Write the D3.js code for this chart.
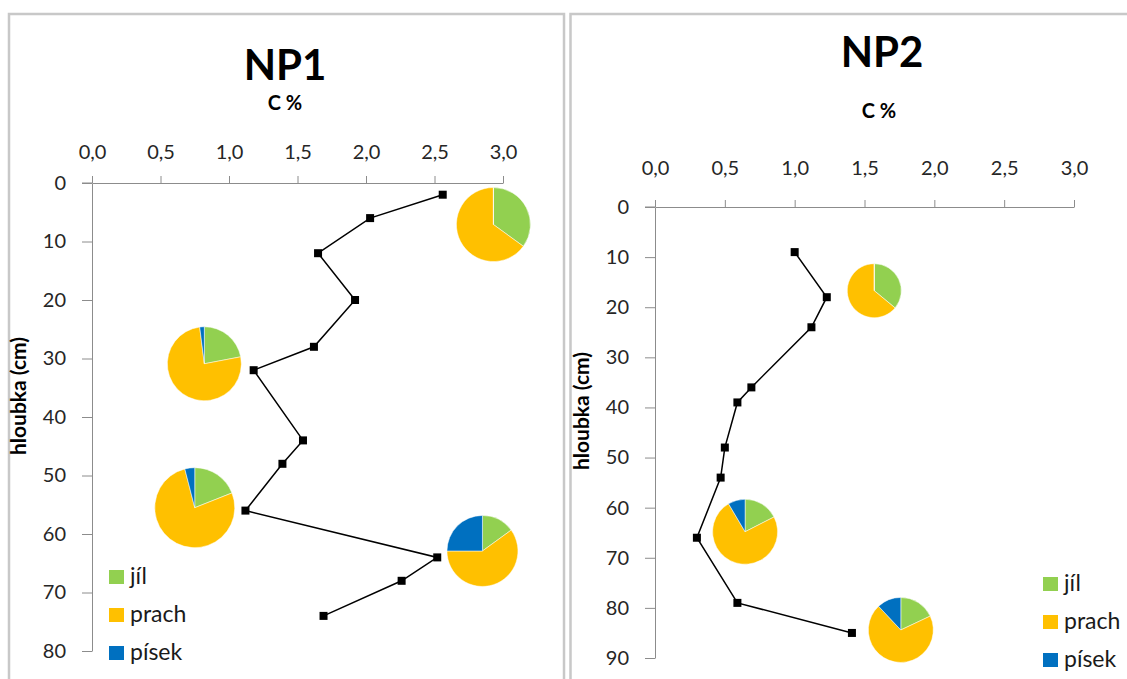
<!DOCTYPE html>
<html>
<head>
<meta charset="utf-8">
<script src="https://cdn.jsdelivr.net/npm/d3@7"></script>
<style>
    body { margin: 0; background: #fff; }
    svg { display: block; font-family: Lato, "Open Sans", sans-serif; }
</style>
</head>
<body>
<svg id="chart" width="1127" height="679"></svg>
<script>
// C % profiles (depth in cm, organic carbon in %)
const np1Depth = [2, 6, 12, 20, 28, 32, 44, 48, 56, 64, 68, 74];
const np1C = [2.56, 2.03, 1.65, 1.92, 1.62, 1.18, 1.54, 1.39, 1.12, 2.52, 2.26, 1.69];

const np2Depth = [9, 18, 24, 36, 39, 48, 54, 66, 79, 85];
const np2C = [1.0, 1.23, 1.12, 0.69, 0.59, 0.50, 0.47, 0.30, 0.59, 1.41];

// grain size pies: jíl, prach, písek (%)
const fractions = ['jíl', 'prach', 'písek'];
const np1Pies = [[35, 65, 0], [22, 76, 2], [19, 77, 4], [15, 60, 25]];
const np1PieC = [2.93, 0.82, 0.75, 2.85];
const np1PieDepth = [7.1, 30.9, 55.5, 62.9];

const np2Pies = [[36, 64, 0], [17.5, 74, 8.5], [18, 70, 12]];
const np2PieC = [1.57, 0.645, 1.76];
const np2PieDepth = [16.7, 64.8, 84.4];

const xTicks = [0, 0.5, 1, 1.5, 2, 2.5, 3];
const np1YTicks = [0, 10, 20, 30, 40, 50, 60, 70, 80];
const np2YTicks = [0, 10, 20, 30, 40, 50, 60, 70, 80, 90];

const colors = ['#92d050', '#ffc000', '#0070c0'];
const axisColor = '#8c8c8c';

let svg = d3.select('#chart');

// panel frames
svg.append('rect').attr('x', 9).attr('y', 14).attr('width', 555).attr('height', 700)
    .attr('fill', 'none').attr('stroke', '#c8c8c8').attr('stroke-width', 2.5);
svg.append('rect').attr('x', 570.5).attr('y', 14).attr('width', 600).attr('height', 700)
    .attr('fill', 'none').attr('stroke', '#c8c8c8').attr('stroke-width', 2.5);

let fmt = d => d3.format('.1f')(d).replace('.', ',');

function drawPanel(p) {
    let x = d3.scaleLinear().domain([0, 3]).range(p.xRange);
    let y = d3.scaleLinear().domain(p.yDomain).range(p.yRange);
    let g = svg.append('g');

    // title + axis titles
    g.append('text').attr('x', p.titlePos[0]).attr('y', p.titlePos[1])
        .attr('text-anchor', 'middle').attr('font-size', 42).attr('font-weight', 'bold')
        .attr('fill', '#000').text(p.title);
    g.append('text').attr('x', p.subPos[0]).attr('y', p.subPos[1])
        .attr('text-anchor', 'middle').attr('font-size', 20).attr('font-weight', 'bold')
        .attr('fill', '#000').text('C %');
    g.append('text')
        .attr('transform', `translate(${p.yTitlePos[0]},${p.yTitlePos[1]}) rotate(-90)`)
        .attr('text-anchor', 'middle').attr('font-size', 21).attr('font-weight', 'bold')
        .attr('fill', '#000').text('hloubka (cm)');

    // x axis on top
    let xa = g.append('g').attr('transform', `translate(0,${p.yRange[0]})`)
        .call(d3.axisTop(x).tickValues(xTicks).tickFormat(fmt).tickSizeInner(7).tickSizeOuter(0).tickPadding(p.xPad));
    // y axis
    let ya = g.append('g').attr('transform', `translate(${p.xRange[0]},0)`)
        .call(d3.axisLeft(y).tickValues(p.yTicks).tickSizeInner(10).tickSizeOuter(0).tickPadding(16));
    [xa, ya].forEach(a => {
        a.select('.domain').attr('stroke', axisColor);
        a.selectAll('.tick line').attr('stroke', axisColor);
        a.selectAll('.tick text').attr('font-family', 'Lato, sans-serif').attr('font-size', 20).attr('fill', '#262626');
    });
    // x axis line also extends left to the y tick
    g.append('line').attr('x1', p.xRange[0] - 10).attr('x2', p.xRange[0])
        .attr('y1', p.yRange[0]).attr('y2', p.yRange[0]).attr('stroke', axisColor);

    // pies
    let pie = d3.pie().sort(null).value(d => d);
    p.pies.forEach((vals, i) => {
        let arc = d3.arc().innerRadius(0).outerRadius(p.pieR[i]);
        g.append('g')
            .attr('transform', `translate(${x(p.pieC[i])},${y(p.pieDepth[i])})`)
            .selectAll('path')
            .data(pie(vals))
            .join('path')
            .attr('d', arc)
            .attr('fill', (d, j) => colors[j])
            .attr('stroke', '#fff').attr('stroke-width', 0.5);
    });

    // profile line
    let pts = p.depth.map((d, i) => [p.c[i], d]);
    g.append('path').datum(pts)
        .attr('d', d3.line().x(d => x(d[0])).y(d => y(d[1])))
        .attr('fill', 'none').attr('stroke', '#000').attr('stroke-width', 1.5);
    g.selectAll('.marker').data(pts).join('rect')
        .attr('class', 'marker')
        .attr('x', d => x(d[0]) - 4).attr('y', d => y(d[1]) - 4)
        .attr('width', 8).attr('height', 8).attr('fill', '#000');

    // legend
    let lg = g.append('g').attr('transform', `translate(${p.legendPos[0]},${p.legendPos[1]})`);
    fractions.forEach((f, i) => {
        lg.append('rect').attr('x', 0).attr('y', i * 38 - 7).attr('width', 15).attr('height', 14)
            .attr('fill', colors[i]);
        lg.append('text').attr('x', 21).attr('y', i * 38 + 7).attr('font-size', 23)
            .attr('fill', '#1a1a1a').text(f);
    });
}

drawPanel({
    title: 'NP1', titlePos: [285, 80], subPos: [285, 110], yTitlePos: [26, 396], xPad: 17,
    xRange: [92, 503], yDomain: [0, 80], yRange: [183, 651], yTicks: np1YTicks,
    depth: np1Depth, c: np1C,
    pies: np1Pies, pieC: np1PieC, pieDepth: np1PieDepth, pieR: [37, 37, 40, 35.5],
    legendPos: [109, 577]
});

drawPanel({
    title: 'NP2', titlePos: [882, 67], subPos: [879, 118], yTitlePos: [589, 411], xPad: 25,
    xRange: [655, 1074], yDomain: [0, 90], yRange: [207, 658], yTicks: np2YTicks,
    depth: np2Depth, c: np2C,
    pies: np2Pies, pieC: np2PieC, pieDepth: np2PieDepth, pieR: [27, 32.5, 32.5],
    legendPos: [1043, 584]
});
</script>
</body>
</html>
